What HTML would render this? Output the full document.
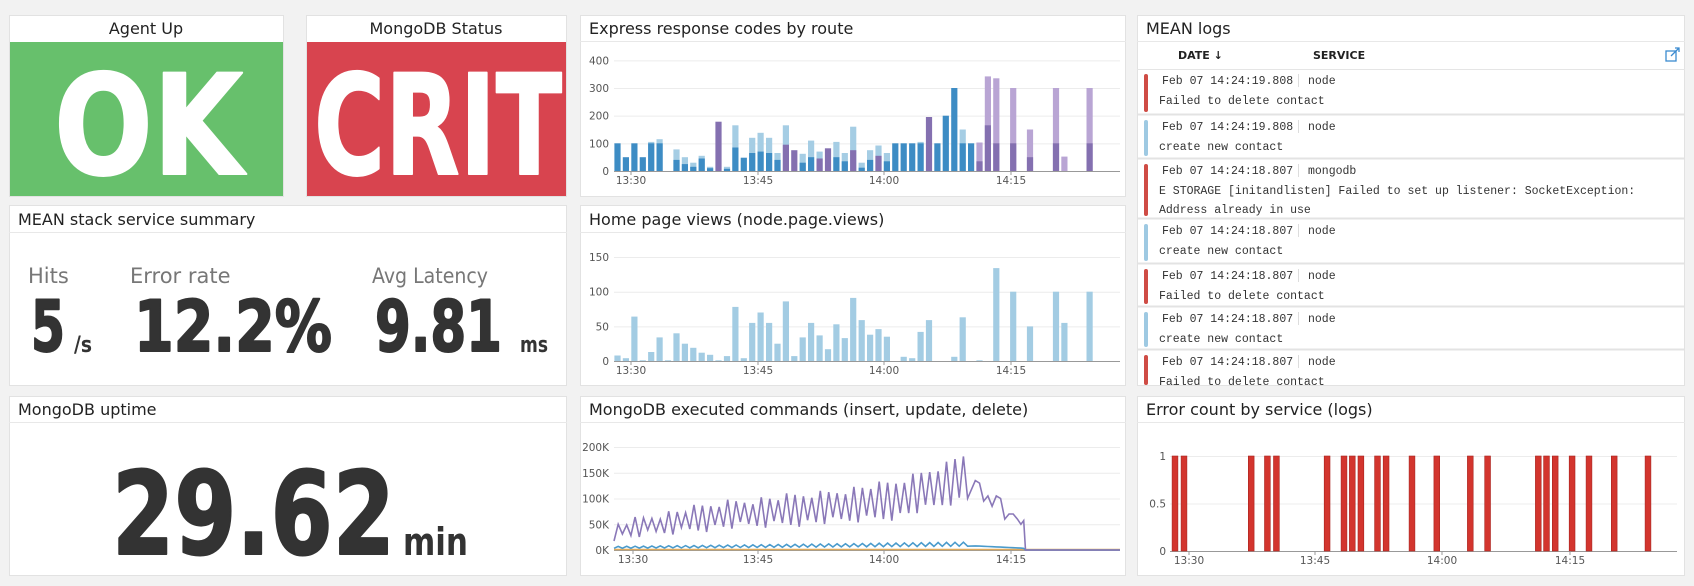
<!DOCTYPE html>
<html><head><meta charset="utf-8">
<style>
html,body{margin:0;padding:0;background:#f2f2f2;}
svg{display:block;}
text{font-family:"DejaVu Sans","Liberation Sans",sans-serif;}
.t{font-size:16px;fill:#222;}
.ax{font-size:10.5px;fill:#555;}
.m{font-family:"Liberation Mono","DejaVu Sans Mono",monospace;font-size:11.5px;fill:#333;}
.big{font-weight:bold;fill:#333;stroke:#333;stroke-width:2;stroke-linejoin:round;}
.sm{font-weight:bold;fill:#333;}
</style></head>
<body>
<svg id="s" width="1694" height="586" viewBox="0 0 1694 586" xmlns="http://www.w3.org/2000/svg">
<rect width="1694" height="586" fill="#f2f2f2"/>
<g fill="#fff" stroke="#e2e2e2">
<rect x="9.5" y="15.5" width="274" height="181"/>
<rect x="306.5" y="15.5" width="260" height="181"/>
<rect x="580.5" y="15.5" width="545" height="181"/>
<rect x="1137.5" y="15.5" width="547" height="370"/>
<rect x="9.5" y="205.5" width="557" height="180"/>
<rect x="580.5" y="205.5" width="545" height="180"/>
<rect x="9.5" y="396.5" width="557" height="179"/>
<rect x="580.5" y="396.5" width="545" height="179"/>
<rect x="1137.5" y="396.5" width="547" height="179"/>
</g>
<g stroke="#e8e8e8">
<line x1="580" y1="41.5" x2="1126" y2="41.5"/>
<line x1="1137" y1="41.5" x2="1685" y2="41.5"/>
<line x1="9" y1="232.5" x2="567" y2="232.5"/>
<line x1="580" y1="232.5" x2="1126" y2="232.5"/>
<line x1="9" y1="422.5" x2="567" y2="422.5"/>
<line x1="580" y1="422.5" x2="1126" y2="422.5"/>
<line x1="1137" y1="422.5" x2="1685" y2="422.5"/>
</g>
<rect x="10" y="42" width="273" height="154" fill="#67c06c"/>
<rect x="307" y="42" width="259" height="154" fill="#d8444f"/>
<text class="t" x="146" y="34" text-anchor="middle">Agent Up</text>
<text class="t" x="436" y="34" text-anchor="middle">MongoDB Status</text>
<text class="t" x="589" y="34">Express response codes by route</text>
<text class="t" x="1146" y="34">MEAN logs</text>
<text class="t" x="18" y="225">MEAN stack service summary</text>
<text class="t" x="589" y="225">Home page views (node.page.views)</text>
<text class="t" x="18" y="415">MongoDB uptime</text>
<text class="t" x="589" y="415">MongoDB executed commands (insert, update, delete)</text>
<text class="t" x="1146" y="415">Error count by service (logs)</text>

<text x="54" y="174" font-size="139" font-weight="bold" fill="#fff" stroke="#fff" stroke-width="2" stroke-linejoin="round" textLength="189" lengthAdjust="spacingAndGlyphs">OK</text>
<text x="314" y="174" font-size="139" font-weight="bold" fill="#fff" stroke="#fff" stroke-width="2" stroke-linejoin="round" textLength="248" lengthAdjust="spacingAndGlyphs">CRIT</text>

<g font-size="21" fill="#777">
<text x="28" y="283">Hits</text>
<text x="130" y="283">Error rate</text>
<text x="372" y="283" textLength="116" lengthAdjust="spacingAndGlyphs">Avg Latency</text>
</g>
<text class="big" x="31" y="351" font-size="70" textLength="34" lengthAdjust="spacingAndGlyphs">5</text>
<text class="sm" x="74" y="352" font-size="22" textLength="18" lengthAdjust="spacingAndGlyphs">/s</text>
<text class="big" x="134" y="351" font-size="70" textLength="198" lengthAdjust="spacingAndGlyphs">12.2%</text>
<text class="big" x="375" y="351" font-size="70" textLength="127" lengthAdjust="spacingAndGlyphs">9.81</text>
<text class="sm" x="520" y="352" font-size="22" textLength="28" lengthAdjust="spacingAndGlyphs">ms</text>
<text class="big" x="112" y="554" font-size="115" stroke-width="3" textLength="283" lengthAdjust="spacingAndGlyphs">29.62</text>
<text class="sm" x="403" y="555" font-size="38" textLength="65" lengthAdjust="spacingAndGlyphs">min</text>

<text x="1178" y="59" font-size="11" font-weight="bold" fill="#222">DATE ↓</text>
<text x="1313" y="59" font-size="11" font-weight="bold" fill="#222">SERVICE</text>
<g stroke="#3b8bd0" fill="none" stroke-width="1.3"><rect x="1666" y="51" width="10" height="10"/><path d="M1671 56 L1679 48 M1675 48 H1679 V52"/></g>
<line x1="1137" y1="69.5" x2="1685" y2="69.5" stroke="#e5e5e5"/>
<g id="logs"></g>
<g id="charts"></g>
</svg>
<script>
var s='';
var L=[[70,'r','19.808','node',['Failed to delete contact']],
[116,'b','19.808','node',['create new contact']],
[160,'r','18.807','mongodb',['E STORAGE [initandlisten] Failed to set up listener: SocketException:','Address already in use']],
[220,'b','18.807','node',['create new contact']],
[265,'r','18.807','node',['Failed to delete contact']],
[308,'b','18.807','node',['create new contact']],
[351,'r','18.807','node',['Failed to delete contact']]];
var lg='';
for(var i=0;i<L.length;i++){var e=L[i],t=e[0],h=(i<L.length-1?L[i+1][0]:400)-t;
 var c=e[1]=='r'?'#cf4c45':'#9ec9e2';
 lg+='<rect x="1144" y="'+(t+4)+'" width="4" height="'+Math.min(h-8,385-t-4)+'" rx="2" fill="'+c+'"/>';
 lg+='<text class="m" x="1162" y="'+(t+14)+'">Feb 07 14:24:'+e[2]+'</text>';
 lg+='<line x1="1298.5" y1="'+(t+4)+'" x2="1298.5" y2="'+(t+17)+'" stroke="#ddd"/>';
 lg+='<text class="m" x="1308" y="'+(t+14)+'">'+e[3]+'</text>';
 for(var j=0;j<e[4].length;j++) lg+='<text class="m" x="1159" y="'+(t+34+j*19)+'">'+e[4][j]+'</text>';
 if(i<L.length-1) lg+='<line x1="1138" y1="'+(L[i+1][0]-1.5)+'" x2="1684" y2="'+(L[i+1][0]-1.5)+'" stroke="#e3e3e3" stroke-width="2"/>';
}
document.getElementById('logs').innerHTML='<svg overflow="hidden" x="0" y="0" width="1694" height="385">'+lg+'</svg>';

function grid(x0,x1,base,ppu,vals,labs,lx){var g='';for(var i=0;i<vals.length;i++){var y=base-vals[i]*ppu;
 g+='<line x1="'+x0+'" y1="'+(y+.5)+'" x2="'+x1+'" y2="'+(y+.5)+'" stroke="'+(i==0?'#999':'#ececec')+'"/>';
 g+='<text class="ax" x="'+lx+'" y="'+(y+4)+'" text-anchor="end">'+labs[i]+'</text>';}return g;}
function xl(xs,y,base){var g='',L=['13:30','13:45','14:00','14:15'];for(var i=0;i<4;i++){g+='<line x1="'+xs[i]+'" y1="'+base+'" x2="'+xs[i]+'" y2="'+(base+4)+'" stroke="#999"/><text class="ax" x="'+xs[i]+'" y="'+y+'" text-anchor="middle">'+L[i]+'</text>';}return g;}
function R(x,y,w,h,c){return '<rect x="'+x.toFixed(1)+'" y="'+y.toFixed(1)+'" width="'+w+'" height="'+h.toFixed(1)+'" fill="'+c+'"/>';}

var B=171,P=0.2767;
s+=grid(614,1120,B,P,[0,100,200,300,400],['0','100','200','300','400'],609);
var E=[[107,100,0],[131,50,0],[155,100,0],[179,50,0],[203,100,105],[227,100,115],[275,40,78],[299,25,50],[323,15,30],[347,45,55],[371,10,15],[395,-178,0],[419,8,15],[443,85,165],[467,48,0],[491,65,120],[515,70,138],[539,65,120],[563,40,65],[587,-95,165],[611,-75,0],[635,30,62],[659,50,110],[683,-45,70],[707,-82,0],[731,50,105],[755,35,65],[779,-75,160],[803,12,30],[827,40,75],[851,-55,92],[875,35,65],[899,100,0],[923,100,0],[947,100,0],[971,100,105],[995,-195,0],[1019,100,0],[1043,200,0],[1067,300,0],[1091,100,150],[1115,100,0]];
var LP=[[1139,35,103],[1163,165,342],[1187,100,335],[1235,100,300],[1283,50,150],[1357,100,300],[1381,0,52],[1453,100,300]];
for(var i=0;i<E.length;i++){var x=580+E[i][0]/2.851-3.1,v=E[i][1],t=E[i][2];
 if(t>Math.abs(v)) s+=R(x,B-t*P,6.2,t*P,'#a5cde4');
 if(v<0) s+=R(x,B+v*P,6.2,-v*P,'#8470b0'); else s+=R(x,B-v*P,6.2,v*P,'#3d8cc4');}
for(var i=0;i<LP.length;i++){var x=580+LP[i][0]/2.851-3.1;s+=R(x,B-LP[i][2]*P,6.2,LP[i][2]*P,'#b9a5d4');if(LP[i][1])s+=R(x,B-LP[i][1]*P,6.2,LP[i][1]*P,'#8470b0');}
s+=xl([631,758,884,1011],184,B);

B=361;P=0.693;
s+=grid(614,1120,B,P,[0,50,100,150],['0','50','100','150'],609);
var H=[[107,8],[131,4],[155,64],[179,1],[203,13],[227,34],[251,1],[275,40],[299,25],[323,19],[347,12],[371,9],[395,1],[419,7],[443,78],[467,4],[491,55],[515,70],[539,55],[563,25],[587,86],[611,7],[635,34],[659,55],[683,37],[707,17],[731,53],[755,33],[779,91],[803,59],[827,38],[851,46],[875,35],[923,6],[947,4],[971,42],[995,59],[1067,6],[1091,63],[1139,1],[1187,134],[1235,100],[1283,50],[1357,100],[1381,55],[1453,100]];
for(var i=0;i<H.length;i++){var x=580+H[i][0]/2.851-3.1;s+=R(x,B-H[i][1]*P,6.2,H[i][1]*P,'#a3cce3');}
s+=xl([631,758,884,1011],374,B);

B=550;P=103/200;
s+=grid(614,1120,B,P,[0,50,100,150,200],['0K','50K','100K','150K','200K'],609);
function interp(pts,x){for(var i=0;i<pts.length-1;i++){if(x<=pts[i+1][0]){var f=(x-pts[i][0])/(pts[i+1][0]-pts[i][0]);return pts[i][1]+f*(pts[i+1][1]-pts[i][1]);}}return pts[pts.length-1][1];}
var HI=[[97,50],[400,90],[700,110],[900,130],[1040,165],[1115,195]],LO=[[97,25],[400,45],[700,55],[900,65],[1040,90],[1115,100]];
var pp=[],pb=[];var k=0;
for(var zx=97;zx<=1115;zx+=12){var v=(k%2?interp(HI,zx):interp(LO,zx));v+=((k*37)%11-5)*1.5;pp.push([580+zx/2.851,B-v*P]);
 var b=(k%2?6+zx/120:3+zx/250);pb.push([580+zx/2.851,B-b*P]);k++;}
var tail=[[1127,135],[1139,130],[1151,95],[1163,105],[1175,85],[1187,105],[1199,100],[1211,60],[1223,70],[1235,70],[1247,60],[1257,50],[1265,57],[1270,0]];
for(var i=0;i<tail.length;i++){pp.push([580+tail[i][0]/2.851,B-tail[i][1]*P]);pb.push([580+tail[i][0]/2.851,B-(i<13?8-i*0.4:0)*P]);}
pp.push([1120,B]);pb.push([1120,B]);
function pl(a,c,w){return '<polyline fill="none" stroke="'+c+'" stroke-width="'+w+'" points="'+a.map(function(p){return p[0].toFixed(1)+','+p[1].toFixed(1)}).join(' ')+'"/>';}
s+='<line x1="614" y1="'+(B-0.5)+'" x2="1120" y2="'+(B-0.5)+'" stroke="#e0a95a" stroke-width="1.5"/>';
s+=pl(pb,'#4a9bcc',1.6);s+=pl(pp,'#8a78b8',1.6);
s+=xl([633,758,884,1011],563,B);

B=551;P=95;
s+=grid(1170,1677,B,P,[0,0.5,1],['0','0.5','1'],1166);
var EC=[125,150,337,382,407,548,595,618,642,688,712,784,853,946,994,1135,1158,1182,1229,1276,1346,1440];
for(var i=0;i<EC.length;i++){var x=1130+EC[i]/2.78-2.9;s+='<rect x="'+x.toFixed(1)+'" y="'+(B-P)+'" width="5.8" height="'+P+'" fill="#d3352e" stroke="#a8241f" stroke-width="0.6"/>';}
s+=xl([1189,1315,1442,1570],564,B);
document.getElementById('charts').innerHTML=s;
</script>
</body></html>
